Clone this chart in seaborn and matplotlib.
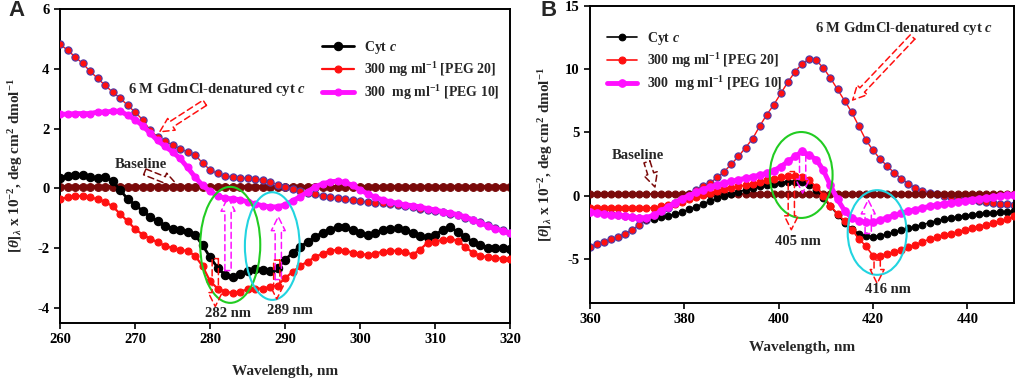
import numpy as np
import matplotlib
matplotlib.use("Agg")
import matplotlib.pyplot as plt
import seaborn as sns
from matplotlib.patches import Ellipse

# -----------------------------
# Panel A : 260-320 nm (1 nm steps)
# -----------------------------
wl_a = np.arange(260, 321, 1)

cytc_a = [0.35, 0.40, 0.45, 0.45, 0.38, 0.36, 0.38, 0.25, -0.05, -0.35,
          -0.55, -0.75, -0.95, -1.10, -1.25, -1.35, -1.40, -1.45, -1.55, -1.90,
          -2.30, -2.65, -2.90, -2.98, -2.85, -2.75, -2.70, -2.72, -2.75, -2.65,
          -2.40, -2.15, -1.95, -1.80, -1.62, -1.48, -1.38, -1.28, -1.30, -1.40,
          -1.50, -1.55, -1.48, -1.40, -1.35, -1.33, -1.38, -1.48, -1.58, -1.62,
          -1.55, -1.40, -1.30, -1.45, -1.62, -1.78, -1.90, -1.98, -2.00, -2.00,
          -2.02]

peg20_a = [-0.36, -0.30, -0.25, -0.26, -0.30, -0.36, -0.45, -0.60, -0.85, -1.10,
           -1.35, -1.55, -1.68, -1.80, -1.92, -2.00, -2.05, -2.10, -2.25, -2.60,
           -3.10, -3.35, -3.45, -3.50, -3.45, -3.38, -3.35, -3.35, -3.30, -3.25,
           -3.00, -2.80, -2.60, -2.45, -2.30, -2.18, -2.10, -2.05, -2.08, -2.15,
           -2.20, -2.22, -2.18, -2.12, -2.10, -2.08, -2.12, -2.22, -2.05, -1.82,
           -1.78, -1.72, -1.68, -1.75, -1.95, -2.15, -2.25, -2.30, -2.33, -2.35,
           -2.37]

peg10_a = [2.48, 2.48, 2.50, 2.50, 2.50, 2.55, 2.55, 2.58, 2.58, 2.45,
           2.30, 2.10, 1.85, 1.60, 1.40, 1.22, 1.00, 0.70, 0.38, 0.10,
           -0.10, -0.25, -0.33, -0.35, -0.38, -0.45, -0.52, -0.58, -0.62, -0.62,
           -0.55, -0.42, -0.28, -0.12, 0.05, 0.15, 0.22, 0.24, 0.20, 0.10,
           -0.05, -0.18, -0.30, -0.38, -0.45, -0.50, -0.55, -0.58, -0.62, -0.68,
           -0.72, -0.78, -0.82, -0.88, -0.95, -1.05, -1.15, -1.25, -1.35, -1.42,
           -1.50]

gdmcl_a = [4.82, 4.62, 4.40, 4.18, 3.92, 3.68, 3.45, 3.22, 3.02, 2.78,
           2.55, 2.30, 1.95, 1.72, 1.58, 1.45, 1.32, 1.22, 1.12, 0.85,
           0.62, 0.50, 0.42, 0.38, 0.35, 0.34, 0.32, 0.28, 0.22, 0.12,
           0.05, -0.02, -0.08, -0.14, -0.20, -0.26, -0.30, -0.33, -0.36, -0.40,
           -0.43, -0.46, -0.48, -0.50, -0.52, -0.55, -0.60, -0.64, -0.68, -0.72,
           -0.76, -0.80, -0.85, -0.90, -0.98, -1.05, -1.12, -1.22, -1.32, -1.40,
           -1.48]

base_a = [0.05, 0.05, 0.05, 0.05, 0.05, 0.05, 0.05, 0.05, 0.05, 0.05,
          0.05, 0.05, 0.05, 0.05, 0.05, 0.05, 0.05, 0.05, 0.05, 0.05,
          0.05, 0.05, 0.05, 0.05, 0.05, 0.05, 0.05, 0.05, 0.05, 0.05,
          0.05, 0.05, 0.05, 0.05, 0.05, 0.05, 0.05, 0.05, 0.05, 0.05,
          0.05, 0.05, 0.05, 0.05, 0.05, 0.05, 0.05, 0.05, 0.05, 0.05,
          0.05, 0.05, 0.05, 0.05, 0.05, 0.05, 0.05, 0.05, 0.05, 0.05,
          0.05]

# -----------------------------
# Panel B : 360-450 nm (1.5 nm steps)
# -----------------------------
wl_b = np.arange(360, 450.1, 1.5)

gdmcl_b = [-4.05, -3.85, -3.65, -3.45, -3.25, -3.00, -2.70, -2.30, -1.95, -1.60,
           -1.30, -0.95, -0.55, -0.20, 0.15, 0.45, 0.75, 1.00, 1.45, 1.90,
           2.50, 3.10, 3.80, 4.50, 5.50, 6.40, 7.20, 8.10, 9.00, 9.80,
           10.45, 10.80, 10.70, 10.10, 9.30, 8.40, 7.50, 6.60, 5.50, 4.40,
           3.60, 2.90, 2.35, 1.80, 1.35, 0.95, 0.60, 0.35, 0.20, 0.10,
           0.00, -0.10, -0.20, -0.30, -0.38, -0.45, -0.52, -0.58, -0.63, -0.68,
           -0.72]

cytc_b = [-1.25, -1.30, -1.35, -1.42, -1.50, -1.58, -1.68, -1.78, -1.85, -1.82,
          -1.72, -1.62, -1.45, -1.30, -1.10, -0.90, -0.65, -0.45, -0.20, 0.00,
          0.15, 0.30, 0.45, 0.60, 0.75, 0.85, 0.95, 1.02, 1.08, 1.10,
          1.05, 0.85, 0.45, -0.20, -0.85, -1.50, -2.15, -2.65, -3.00, -3.20,
          -3.25, -3.20, -3.05, -2.90, -2.75, -2.60, -2.45, -2.30, -2.15, -2.00,
          -1.88, -1.78, -1.68, -1.60, -1.52, -1.45, -1.40, -1.35, -1.30, -1.28,
          -1.25]

peg20_b = [-1.00, -1.00, -1.00, -1.00, -1.00, -1.00, -1.00, -1.00, -1.00, -0.95,
           -0.85, -0.75, -0.65, -0.50, -0.30, -0.10, 0.05, 0.20, 0.38, 0.50,
           0.62, 0.72, 0.82, 0.92, 1.05, 1.20, 1.35, 1.45, 1.52, 1.55,
           1.45, 1.20, 0.70, 0.00, -0.80, -1.45, -2.00, -2.70, -3.40, -4.00,
           -4.75, -4.75, -4.60, -4.45, -4.30, -4.10, -3.90, -3.65, -3.45, -3.30,
           -3.15, -3.00, -2.88, -2.75, -2.60, -2.45, -2.30, -2.15, -2.00, -1.85,
           -1.65]

peg10_b = [-1.30, -1.38, -1.45, -1.50, -1.55, -1.62, -1.70, -1.78, -1.75, -1.55,
           -1.25, -0.90, -0.55, -0.25, 0.00, 0.25, 0.48, 0.68, 0.85, 1.00,
           1.12, 1.25, 1.38, 1.50, 1.62, 1.78, 1.98, 2.30, 2.70, 3.10,
           3.50, 3.20, 2.85, 2.00, 0.80, -0.30, -1.20, -1.75, -2.00, -2.10,
           -2.10, -1.95, -1.75, -1.55, -1.40, -1.25, -1.12, -0.98, -0.85, -0.75,
           -0.65, -0.55, -0.48, -0.40, -0.32, -0.25, -0.18, -0.10, -0.03, 0.02,
           0.07]

base_b = [0.10, 0.10, 0.10, 0.10, 0.10, 0.10, 0.10, 0.10, 0.10, 0.10,
          0.10, 0.10, 0.10, 0.10, 0.10, 0.10, 0.10, 0.10, 0.10, 0.10,
          0.10, 0.10, 0.10, 0.10, 0.10, 0.10, 0.10, 0.10, 0.10, 0.10,
          0.10, 0.10, 0.10, 0.10, 0.10, 0.10, 0.10, 0.10, 0.10, 0.10,
          0.10, 0.10, 0.10, 0.10, 0.10, 0.10, 0.10, 0.10, 0.10, 0.10,
          0.10, 0.10, 0.10, 0.10, 0.10, 0.10, 0.10, 0.10, 0.10, 0.10,
          0.10]

legend_labels = [r"Cyt $c$",
                 r"300 mg ml$^{-1}$ [PEG 20]",
                 r"300  mg ml$^{-1}$ [PEG 10]"]

# -----------------------------
# Style
# -----------------------------
sns.set_style("ticks")
plt.rcParams["font.family"] = ["Liberation Serif", "DejaVu Serif"]
plt.rcParams["font.weight"] = "bold"
plt.rcParams["axes.labelweight"] = "bold"
plt.rcParams["axes.unicode_minus"] = False
plt.rcParams["mathtext.fontset"] = "custom"
plt.rcParams["mathtext.rm"] = "Liberation Serif:bold"
plt.rcParams["mathtext.it"] = "Liberation Serif:italic:bold"
plt.rcParams["mathtext.bf"] = "Liberation Serif:bold"

C_BLACK = "#000000"
C_RED = "#ff1010"
C_MAG = "#ff10ff"
C_BASE = "#7a0a0a"
C_EDGE = "#4b3aa8"
C_GREEN = "#22cc22"
C_CYAN = "#22d4e0"

fig = plt.figure(figsize=(10.17, 3.79), dpi=100)
ax_a = fig.add_axes([0.059, 0.148, 0.4425, 0.8285])
ax_b = fig.add_axes([0.580, 0.2005, 0.4175, 0.7836])


def draw(ax, x, y, color, ms, lw=1.2, mec=None, z=2):
    sns.lineplot(x=x, y=y, ax=ax, color=color, marker="o", markersize=ms,
                 markeredgecolor=mec or color, markeredgewidth=0.8,
                 linewidth=lw, zorder=z, legend=False)
    return ax.lines[-1]


def hollow_arrow(ax, start, end, color, lw=1.1):
    ax.annotate("", xy=end, xytext=start,
                arrowprops=dict(arrowstyle="simple,head_length=1.0,head_width=1.0,tail_width=0.45",
                                fc="none", ec=color, ls=(0, (4, 2.5)), lw=lw,
                                shrinkA=0, shrinkB=0), zorder=6)


# ---- Panel A
draw(ax_a, wl_a, base_a, C_BASE, 5.6, lw=3.0, z=2)
h1 = draw(ax_a, wl_a, cytc_a, C_BLACK, 6.0, lw=2.0, z=3)
h2 = draw(ax_a, wl_a, peg20_a, C_RED, 5.0, lw=1.6, z=3)
draw(ax_a, wl_a, gdmcl_a, C_RED, 5.2, lw=1.0, mec=C_EDGE, z=4)
h3 = draw(ax_a, wl_a, peg10_a, C_MAG, 5.0, lw=3.5, z=5)

ax_a.set_xlim(260, 320)
ax_a.set_ylim(-4.5, 6)
ax_a.set_xticks(range(260, 321, 10))
ax_a.set_yticks(range(-4, 7, 2))

ax_a.text(280.9, 3.3, r"6 M GdmCl-denatured cyt $c$", fontsize=10.5,
          ha="center", va="center", zorder=7)
hollow_arrow(ax_a, (279.3, 2.86), (273.3, 1.89), C_RED)
ax_a.text(270.8, 0.8, "Baseline", fontsize=10.5, ha="center", va="center", zorder=7)
hollow_arrow(ax_a, (271.3, 0.55), (275.6, 0.12), C_BASE)

ax_a.add_patch(Ellipse((282.7, -1.89), 8.0, 3.88, fill=False, ec=C_GREEN, lw=1.5, zorder=6))
ax_a.add_patch(Ellipse((288.3, -1.93), 7.3, 3.6, fill=False, ec=C_CYAN, lw=1.5, zorder=6))
hollow_arrow(ax_a, (282.4, -2.75), (282.4, -0.3), C_MAG)
hollow_arrow(ax_a, (289.1, -3.05), (289.1, -0.95), C_MAG)
hollow_arrow(ax_a, (280.7, -2.35), (280.7, -3.95), C_RED)
hollow_arrow(ax_a, (288.9, -2.4), (288.9, -3.7), C_RED)
ax_a.text(282.4, -4.2, "282 nm", fontsize=10.5, ha="center", va="center", zorder=7)
ax_a.text(290.7, -4.1, "289 nm", fontsize=10.5, ha="center", va="center", zorder=7)

ax_a.legend([h1, h2, h3], legend_labels, loc="upper left",
            bbox_to_anchor=(0.582, 0.905), frameon=False, fontsize=10,
            handlelength=2.3, handletextpad=0.7, labelspacing=0.3,
            borderpad=0, borderaxespad=0)

# ---- Panel B
draw(ax_b, wl_b, gdmcl_b, C_RED, 5.2, lw=1.0, mec=C_EDGE, z=2)
draw(ax_b, wl_b, base_b, C_BASE, 5.0, lw=1.5, z=3)
g1 = draw(ax_b, wl_b, cytc_b, C_BLACK, 4.8, z=3)
g2 = draw(ax_b, wl_b, peg20_b, C_RED, 5.0, z=4)
g3 = draw(ax_b, wl_b, peg10_b, C_MAG, 5.4, lw=3.5, z=5)

ax_b.set_xlim(360, 450)
ax_b.set_ylim(-8.5, 15)
ax_b.set_xticks(range(360, 441, 20))
ax_b.set_yticks(range(-5, 16, 5))

ax_b.text(426.7, 13.2, r"6 M GdmCl-denatured cyt $c$", fontsize=10.5,
          ha="center", va="center", zorder=7)
hollow_arrow(ax_b, (428.4, 12.55), (415.7, 7.56), C_RED)
ax_b.text(370.2, 3.2, "Baseline", fontsize=10.5, ha="center", va="center", zorder=7)
hollow_arrow(ax_b, (372.1, 2.66), (373.8, 0.68), C_BASE)

ax_b.add_patch(Ellipse((404.8, 1.63), 13.3, 6.8, fill=False, ec=C_GREEN, lw=1.5, zorder=6))
ax_b.add_patch(Ellipse((420.9, -2.92), 12.5, 6.7, fill=False, ec=C_CYAN, lw=1.5, zorder=6))
hollow_arrow(ax_b, (405.1, 3.2), (405.1, 0.2), C_MAG)
hollow_arrow(ax_b, (402.7, 1.9), (402.7, -2.7), C_RED)
hollow_arrow(ax_b, (419.0, -3.0), (419.0, -0.35), C_MAG)
hollow_arrow(ax_b, (420.9, -5.1), (420.9, -6.95), C_RED)
ax_b.text(404.1, -3.67, "405 nm", fontsize=10.5, ha="center", va="center", zorder=7)
ax_b.text(423.1, -7.47, "416 nm", fontsize=10.5, ha="center", va="center", zorder=7)

ax_b.legend([g1, g2, g3], legend_labels, loc="upper left",
            bbox_to_anchor=(0.04, 0.92), frameon=False, fontsize=10,
            handlelength=2.2, handletextpad=0.7, labelspacing=0.3,
            borderpad=0, borderaxespad=0)

# ---- Common axis styling
ylab = r"$[\theta]_{\lambda}$ x 10$^{-2}$, deg cm$^{2}$ dmol$^{-1}$"
for ax, xl_y, yl_x in [(ax_a, -0.134, -0.078), (ax_b, -0.128, -0.083)]:
    ax.set_xlabel("Wavelength, nm", fontsize=11)
    ax.set_ylabel(ylab, fontsize=11)
    ax.xaxis.set_label_coords(0.5, xl_y)
    ax.yaxis.set_label_coords(yl_x, 0.5)
    ax.tick_params(direction="out", length=4, width=1.2, labelsize=10.5, colors="black")
    for sp in ax.spines.values():
        sp.set_visible(True)
        sp.set_linewidth(1.4)
        sp.set_color("black")

fig.text(0.0167, 0.971, "A", fontsize=16, fontweight="bold",
         family="Liberation Sans", ha="center", va="center")
fig.text(0.539, 0.971, "B", fontsize=16, fontweight="bold",
         family="Liberation Sans", ha="center", va="center")

fig.savefig("out.png", dpi=100)
